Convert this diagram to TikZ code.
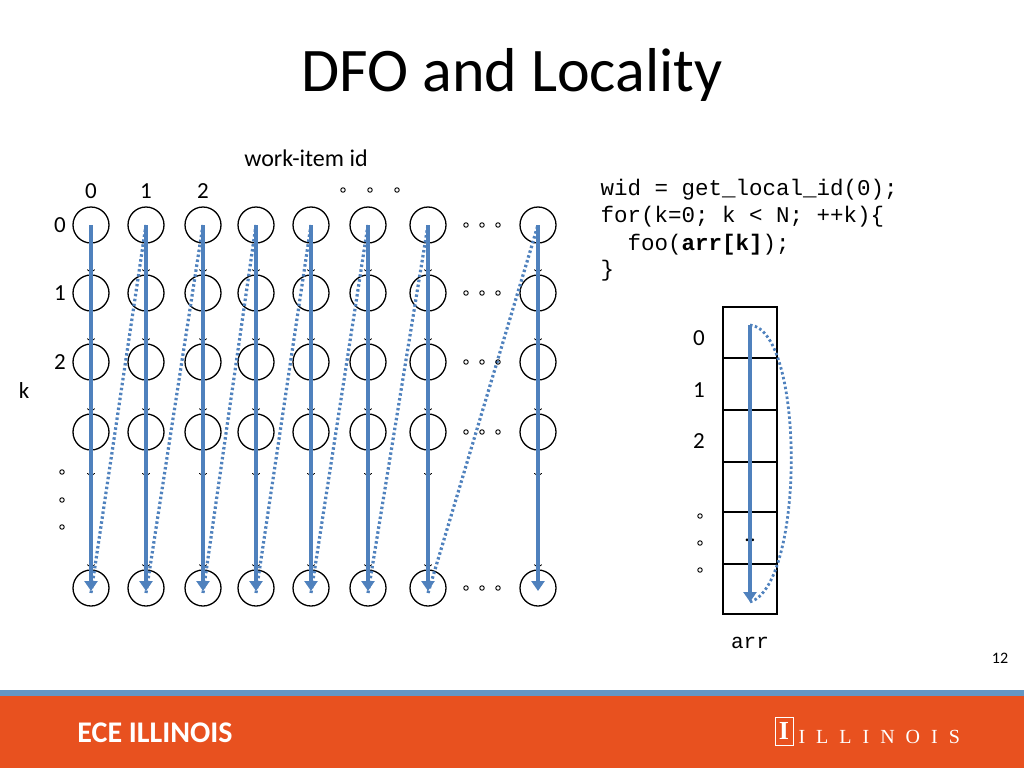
\documentclass[tikz,border=0pt]{standalone}
\usepackage{fontspec}
\setmainfont{Carlito}
\newfontfamily\monof{Liberation Mono}
\newfontfamily\serf{Liberation Serif}
\usetikzlibrary{arrows.meta}
\definecolor{bl}{RGB}{79,129,189}
\definecolor{org}{RGB}{232,81,31}
\definecolor{topline}{RGB}{100,150,195}
\begin{document}
\begin{tikzpicture}[x=1pt,y=-1pt,
  cir/.style={circle,draw,line width=1.3pt,minimum size=36pt,inner sep=0pt},
  sm/.style={circle,draw,line width=0.9pt,inner sep=0pt,minimum size=4.5pt},
  blk/.style={line width=0.8pt,-{To[length=5pt,width=8pt]}},
  blu/.style={draw=bl,line width=3.8pt,-{Triangle[length=10pt,width=13pt]}},
  dbl/.style={draw=bl,line width=3.2pt,dash pattern=on 2.5pt off 2.5pt},
  lab/.style={font=\fontsize{23}{26}\selectfont}]
\useasboundingbox (0,0) rectangle (1024,768);
\node[font=\fontsize{62}{70}\selectfont] (title) at (512,75) {DFO and Locality};
\node[font=\fontsize{24}{28}\selectfont] (wi) at (306,158) {work-item id};
\node[lab] (h0) at (91,191) {0};
\node[lab] (h1) at (146,191) {1};
\node[lab] (h2) at (203,191) {2};
\foreach \x in {343,370,397} \node[sm] at (\x,190) {};
\node[lab] (r0) at (60,225) {0};
\node[lab] (r1) at (60,293) {1};
\node[lab] (r2) at (60,362) {2};
\node[lab] (kk) at (24,391) {k};
\foreach \y in {472,500,527} \node[sm] at (62,\y) {};
% circles
\foreach \x [count=\i] in {91,146,203,256,311,368,428,538}{
  \foreach \y [count=\j] in {225,293,362,432,588}{
    \node[cir] (c\i-\j) at (\x,\y) {};
  }
  \draw[blk] (c\i-1.south) -- (c\i-2.north);
  \draw[blk] (c\i-2.south) -- (c\i-3.north);
  \draw[blk] (c\i-3.south) -- (c\i-4.north);
  \coordinate (m\i) at (\x,478);
  \coordinate (n\i) at (\x,545);
  \draw[blk] (c\i-4.south) -- (m\i);
  \draw[line width=1.6pt,dotted] (\x,490) -- (\x,530);
  \draw[blk] (n\i) -- (c\i-5.north);
  \draw[blu] (c\i-1.center) -- ([yshift=-3pt]c\i-5.center);
}
\foreach \i [evaluate=\i as \k using int(\i+1)] in {1,...,7}{
  \draw[dbl] ([yshift=-5pt]c\i-5.center) -- (c\k-1.center);
}
\foreach \y in {225,293,362,432,588}{
  \foreach \x in {466,482,498} \node[sm] at (\x,\y) {};
}
% code
\tikzset{code/.style={anchor=west,font=\monof\fontsize{22.5}{26}\selectfont}}
\node[code] (l1) at (597,190) {wid = get\_local\_id(0);};
\node[code] (l2) at (597,217) {for(k=0; k < N; ++k)\{};
\node[code] (l3) at (597,245) {\ \ foo(\textbf{arr[k]});};
\node[code] (l4) at (597,271) {\}};
% array
\draw[line width=1.1pt] (723,307) rectangle (777,614);
\foreach \y in {358,410,462,512,564} \draw[line width=1.1pt] (723,\y) -- (777,\y);
\node[lab] (a0) at (699,338) {0};
\node[lab] (a1) at (699,390) {1};
\node[lab] (a2) at (699,441) {2};
\foreach \y in {516,543,570} \node[sm] at (700,\y) {};
\node[font=\fontsize{22}{24}\selectfont] (dd) at (750,540) {..};
\coordinate (at) at (750,325);
\coordinate (ab) at (750,602);
\draw[blu] (at) -- (ab);
\draw[dbl,line width=2.8pt] (at) .. controls (805,330) and (805,585) .. (ab);
\node[font=\monof\fontsize{21}{24}\selectfont] (arr) at (750,643) {arr};
\node[font=\fontsize{16}{18}\selectfont] (pg) at (1000,658) {12};
% footer
\fill[topline] (0,690) rectangle (1024,696);
\fill[org] (0,696) rectangle (1024,768);
\node[text=white,font=\bfseries\fontsize{30}{32}\selectfont] (ece) at (155,733) {ECE ILLINOIS};
\node[draw=white,line width=0.8pt,text=white,font=\serf\bfseries\fontsize{26}{28}\selectfont,inner sep=1pt,minimum width=18pt,minimum height=28pt] (logo) at (784,731) {I};
\node[anchor=west,text=white,font=\serf\fontsize{20}{22}\selectfont] (ill) at (795,737) {I\hspace{11pt}L\hspace{11pt}L\hspace{11pt}I\hspace{11pt}N\hspace{11pt}O\hspace{11pt}I\hspace{11pt}S};
\end{tikzpicture}
\end{document}
